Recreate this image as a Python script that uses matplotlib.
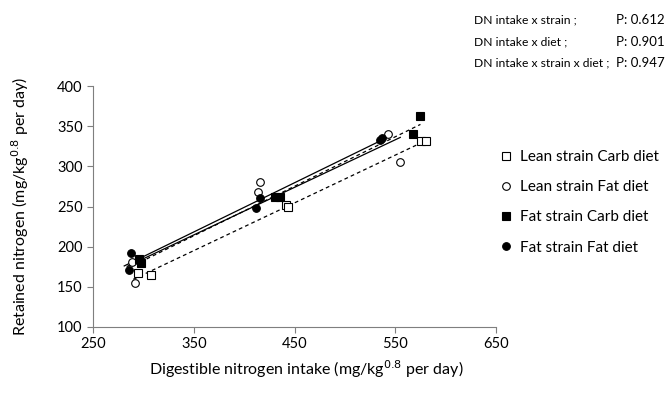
"""Retained nitrogen vs digestible nitrogen intake"""

import numpy as np
import matplotlib.pyplot as plt

plt.rcParams['font.family'] = ['Lato', 'DejaVu Sans']

# Digestible N intake (x) and retained N (y) per group
lean_carb_x = [295, 308, 442, 444, 576, 581]
lean_carb_y = [167, 165, 252, 249, 331, 331]
lean_fat_x = [289, 292, 414, 416, 543, 555]
lean_fat_y = [181, 155, 268, 280, 340, 306]
fat_carb_x = [296, 298, 431, 436, 568, 575]
fat_carb_y = [185, 180, 262, 262, 340, 363]
fat_fat_x = [286, 288, 412, 416, 535, 537]
fat_fat_y = [171, 192, 248, 260, 333, 335]

groups = [
    ('Lean strain Carb diet', lean_carb_x, lean_carb_y, 's', 'white', '--'),
    ('Lean strain Fat diet', lean_fat_x, lean_fat_y, 'o', 'white', '-'),
    ('Fat strain Carb diet', fat_carb_x, fat_carb_y, 's', 'black', '--'),
    ('Fat strain Fat diet', fat_fat_x, fat_fat_y, 'o', 'black', '-'),
]

p_labels = ['DN intake x strain ;', 'DN intake x diet ;', 'DN intake x strain x diet ;']
p_values = ['P: 0.612', 'P: 0.901', 'P: 0.947']

fig = plt.figure(figsize=(6.71, 3.93), dpi=100)
ax = fig.add_axes([0.1386, 0.168, 0.6006, 0.613])

for label, x, y, marker, face, ls in groups:
    x, y = np.array(x, dtype=float), np.array(y, dtype=float)
    # Linear trendline over the group's intake range
    slope, intercept = np.polyfit(x, y, 1)
    xx = np.array([x.min() - 5, x.max()])
    ax.plot(xx, slope * xx + intercept, color='black', linestyle=ls, linewidth=0.9,
            dashes=(3, 2.5) if ls == '--' else (None, None), zorder=2)
    ms = 6 if marker == 's' else 5.5
    ax.plot(x, y, linestyle='none', marker=marker, markersize=ms, markerfacecolor=face,
            markeredgecolor='black', markeredgewidth=0.8, label=label, zorder=3)

ax.set_xlim(250, 650)
ax.set_ylim(100, 400)
ax.set_xticks(range(250, 651, 100))
ax.set_yticks(range(100, 401, 50))
ax.tick_params(labelsize=10.5, length=4, width=0.8, color='#7f7f7f')
ax.spines['top'].set_visible(False)
ax.spines['right'].set_visible(False)
for s in ('left', 'bottom'):
    ax.spines[s].set_color('#7f7f7f')

ax.set_xlabel('Digestible nitrogen intake (mg/kg$^{0.8}$ per day)', fontsize=11.5, labelpad=0)
ax.xaxis.set_label_coords(0.53, -0.13)
ax.set_ylabel('Retained nitrogen (mg/kg$^{0.8}$ per day)', fontsize=11.5)
ax.yaxis.set_label_coords(-0.155, 0.5)

ax.legend(loc='upper left', bbox_to_anchor=(0.975, 0.79), frameon=False, fontsize=11,
          handlelength=0.8, handletextpad=0.5, labelspacing=1.05, borderaxespad=0.5)

for i, (lab, val) in enumerate(zip(p_labels, p_values)):
    fig.text(474 / 671, 1 - (20 + 21.5 * i) / 393, lab, fontsize=8.7, va='center')
    fig.text(665 / 671, 1 - (20 + 21.5 * i) / 393, val, fontsize=9.5, va='center', ha='right')

fig.savefig('out.png', dpi=100)
